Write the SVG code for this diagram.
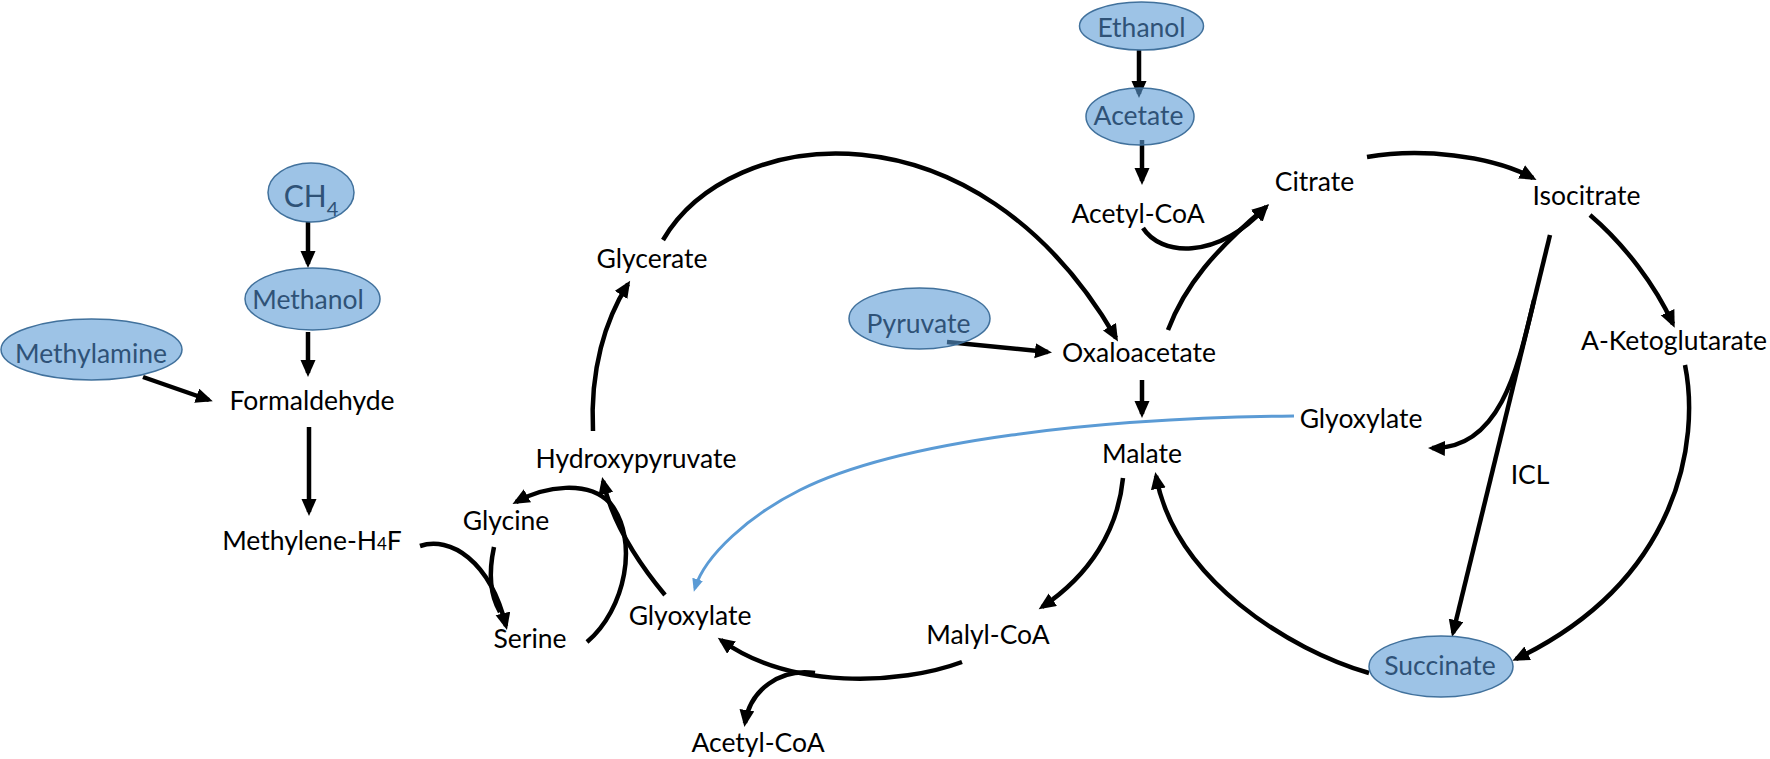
<svg xmlns="http://www.w3.org/2000/svg" width="1770" height="759" viewBox="0 0 1770 759">
<style>
.t{font-family:Lato,"Liberation Sans",sans-serif;font-size:26.5px;fill:#000;text-anchor:middle}
.bt{font-family:Lato,"Liberation Sans",sans-serif;font-size:26.5px;fill:#2F5277;text-anchor:middle}
.ell{fill:#5B9BD5;fill-opacity:0.6;stroke:#41719C;stroke-width:1.5}
.c{fill:none;stroke:#000;stroke-width:4.5;marker-end:url(#ah)}
.cn{fill:none;stroke:#000;stroke-width:4.5}
.cb{fill:none;stroke:#5B9BD5;stroke-width:3;marker-end:url(#ahb)}
</style>
<defs>
<marker id="ah" markerUnits="userSpaceOnUse" markerWidth="18" markerHeight="16" viewBox="0 0 18 16" refX="13" refY="7.5" orient="auto"><path d="M0,0 L17,7.5 L0,15 z" fill="#000"/></marker>
<marker id="ahb" markerUnits="userSpaceOnUse" markerWidth="14" markerHeight="12" viewBox="0 0 14 12" refX="9" refY="5.5" orient="auto"><path d="M0,0 L13,5.5 L0,11 z" fill="#5B9BD5"/></marker>
</defs>
<rect width="1770" height="759" fill="#fff"/>
<g id="connectors">
<path class="c" d="M308,222 V264"/>
<path class="c" d="M308,332 V373"/>
<path class="c" d="M309,427 V512"/>
<path class="c" d="M143,377 L209,400"/>
<path class="c" d="M420,546 C450,536 490,560 506,626"/>
<path class="cn" d="M494,547 C488,575 490,595 500,612"/>
<path class="c" d="M587,642 C625,610 640,540 610,503 C588,480 545,486 516,502"/>
<path class="c" d="M665,595 Q615,535 603,481"/>
<path class="c" d="M593,431 C590,370 605,320 628,284"/>
<path class="c" d="M663,240 C730,125 975,95 1116,338"/>
<path class="c" d="M947,342 L1048,352"/>
<path class="c" d="M1139,50 V94"/>
<path class="c" d="M1142,140 V181"/>
<path class="c" d="M1143,228 C1160,255 1215,262 1266,207"/>
<path class="c" d="M1168,330 C1185,285 1215,250 1266,207"/>
<path class="c" d="M1367,157 C1420,148 1490,155 1533,178"/>
<path class="c" d="M1590,215 C1625,245 1655,285 1673,324"/>
<path class="c" d="M1550,235 L1453,633"/>
<path class="c" d="M1534,300 C1518,368 1500,450 1432,448"/>
<path class="c" d="M1685,365 C1700,440 1680,580 1516,659"/>
<path class="c" d="M1369,673 C1290,650 1175,580 1156,476"/>
<path class="c" d="M1142,380 V414"/>
<path class="c" d="M1123,478 C1118,530 1090,575 1042,607"/>
<path class="cb" d="M1294,416 C1100,418 900,440 800,490 C750,515 705,555 695,588"/>
<path class="c" d="M962,662 C900,685 790,690 721,640"/>
<path class="c" d="M815,673 C780,668 750,690 745,723"/>
</g>
<g id="ch4"><ellipse class="ell" cx="311" cy="192.5" rx="43" ry="29.5"/><text class="bt" x="311" y="207" style="font-size:30px">CH<tspan style="font-size:20px" dy="9">4</tspan></text></g>
<g id="methanol"><ellipse class="ell" cx="312.5" cy="299" rx="67.5" ry="31"/><text class="bt" x="308" y="309">Methanol</text></g>
<g id="methylamine"><ellipse class="ell" cx="91.5" cy="349.5" rx="90.5" ry="30.5"/><text class="bt" x="91" y="363">Methylamine</text></g>
<g id="formaldehyde"><text class="t" x="312" y="410">Formaldehyde</text></g>
<g id="methylene-h4f"><text class="t" x="312" y="550">Methylene-H<tspan style="font-size:17px">4</tspan>F</text></g>
<g id="glycerate"><text class="t" x="652" y="268">Glycerate</text></g>
<g id="hydroxypyruvate"><text class="t" x="636" y="468">Hydroxypyruvate</text></g>
<g id="glycine"><text class="t" x="506" y="530">Glycine</text></g>
<g id="serine"><text class="t" x="530" y="648">Serine</text></g>
<g id="glyoxylate-left"><text class="t" x="690" y="625">Glyoxylate</text></g>
<g id="acetyl-coa-bottom"><text class="t" x="758" y="752">Acetyl-CoA</text></g>
<g id="malyl-coa"><text class="t" x="988" y="644">Malyl-CoA</text></g>
<g id="pyruvate"><ellipse class="ell" cx="919.5" cy="318.5" rx="70.5" ry="30.5"/><text class="bt" x="918.5" y="333">Pyruvate</text></g>
<g id="oxaloacetate"><text class="t" x="1139" y="362">Oxaloacetate</text></g>
<g id="malate"><text class="t" x="1142" y="463">Malate</text></g>
<g id="glyoxylate-right"><text class="t" x="1361" y="428">Glyoxylate</text></g>
<g id="ethanol"><ellipse class="ell" cx="1141.5" cy="26" rx="62" ry="24"/><text class="bt" x="1141.5" y="37">Ethanol</text></g>
<g id="acetate"><ellipse class="ell" cx="1140" cy="116.5" rx="54" ry="28.5"/><text class="bt" x="1138.5" y="125">Acetate</text></g>
<g id="acetyl-coa-top"><text class="t" x="1138" y="223">Acetyl-CoA</text></g>
<g id="citrate"><text class="t" x="1314.5" y="191">Citrate</text></g>
<g id="isocitrate"><text class="t" x="1586.5" y="205">Isocitrate</text></g>
<g id="a-ketoglutarate"><text class="t" x="1767" y="350" style="text-anchor:end">A-Ketoglutarate</text></g>
<g id="icl"><text class="t" x="1530" y="484">ICL</text></g>
<g id="succinate"><ellipse class="ell" cx="1441" cy="666.5" rx="72" ry="30.5"/><text class="bt" x="1440" y="675">Succinate</text></g>
</svg>
